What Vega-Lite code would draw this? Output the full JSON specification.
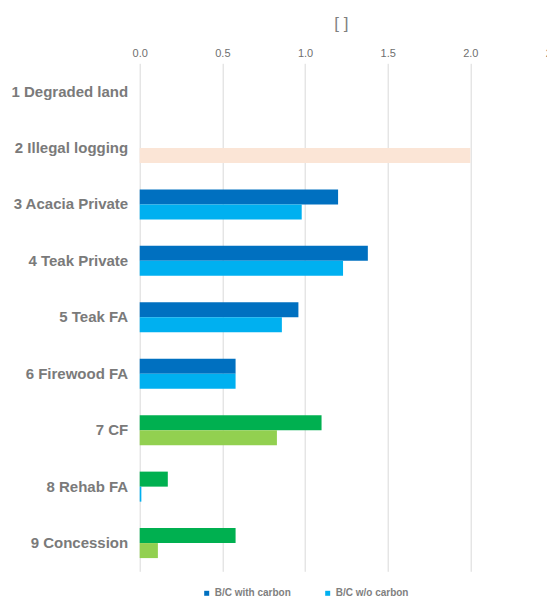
{
  "$schema": "https://vega.github.io/schema/vega-lite/v6.json",
  "autosize": {"type": "none"},
  "width": 413.3,
  "height": 508,
  "padding": {"left": 139.7, "top": 63.3, "right": -6, "bottom": 26.7},
  "background": "white",
  "config": {
    "font": "Liberation Sans",
    "view": {"stroke": null}
  },
  "title": {
    "text": "[ ]",
    "fontSize": 17,
    "fontWeight": "normal",
    "color": "#7F7F7F",
    "offset": 14,
    "dx": -5
  },
  "data": {
    "values": [
      {"cat": "2 Illegal logging", "series": "B/C w/o carbon", "group": "Illegal", "value": 2.0},
      {"cat": "3 Acacia Private", "series": "B/C with carbon", "group": "Plantation", "value": 1.20},
      {"cat": "3 Acacia Private", "series": "B/C w/o carbon", "group": "Plantation", "value": 0.98},
      {"cat": "4 Teak Private", "series": "B/C with carbon", "group": "Plantation", "value": 1.38},
      {"cat": "4 Teak Private", "series": "B/C w/o carbon", "group": "Plantation", "value": 1.23},
      {"cat": "5 Teak FA", "series": "B/C with carbon", "group": "Plantation", "value": 0.96},
      {"cat": "5 Teak FA", "series": "B/C w/o carbon", "group": "Plantation", "value": 0.86},
      {"cat": "6 Firewood FA", "series": "B/C with carbon", "group": "Plantation", "value": 0.58},
      {"cat": "6 Firewood FA", "series": "B/C w/o carbon", "group": "Plantation", "value": 0.58},
      {"cat": "7 CF", "series": "B/C with carbon", "group": "Community", "value": 1.10},
      {"cat": "7 CF", "series": "B/C w/o carbon", "group": "Community", "value": 0.83},
      {"cat": "8 Rehab FA", "series": "B/C with carbon", "group": "Community", "value": 0.17},
      {"cat": "8 Rehab FA", "series": "B/C w/o carbon", "group": "Rehab", "value": 0.01},
      {"cat": "9 Concession", "series": "B/C with carbon", "group": "Community", "value": 0.58},
      {"cat": "9 Concession", "series": "B/C w/o carbon", "group": "Community", "value": 0.11}
    ]
  },
  "mark": {"type": "bar", "cornerRadius": 0},
  "encoding": {
    "y": {
      "field": "cat",
      "type": "nominal",
      "sort": null,
      "scale": {
        "domain": ["1 Degraded land", "2 Illegal logging", "3 Acacia Private", "4 Teak Private", "5 Teak FA", "6 Firewood FA", "7 CF", "8 Rehab FA", "9 Concession"],
        "paddingInner": 0.468,
        "paddingOuter": 0.234
      },
      "axis": {
        "title": null,
        "ticks": false,
        "domain": false,
        "labelPadding": 12,
        "labelFontSize": 15,
        "labelFontWeight": "bold",
        "labelColor": "#7A7A7A",
        "labelLimit": 200
      }
    },
    "yOffset": {
      "field": "series",
      "type": "nominal",
      "sort": ["B/C with carbon", "B/C w/o carbon"],
      "scale": {"paddingInner": 0, "paddingOuter": 0}
    },
    "x": {
      "field": "value",
      "type": "quantitative",
      "scale": {"domain": [0, 2.5], "nice": false, "zero": true},
      "axis": {
        "orient": "top",
        "title": null,
        "values": [0, 0.5, 1, 1.5, 2, 2.5],
        "format": ".1f",
        "ticks": false,
        "domain": false,
        "grid": true,
        "gridColor": "#D9D9D9",
        "gridWidth": 1,
        "labelPadding": 5,
        "labelFontSize": 11,
        "labelFontWeight": 500,
        "labelColor": "#6F6F6F",
        "labelDx": -6,
        "labelFlush": false,
        "labelOverlap": false
      }
    },
    "color": {
      "condition": [
        {"test": "datum.group === 'Illegal'", "value": "#FBE5D6"},
        {"test": "datum.group === 'Community' && datum.series === 'B/C with carbon'", "value": "#00B050"},
        {"test": "datum.group === 'Community' && datum.series === 'B/C w/o carbon'", "value": "#92D050"}
      ],
      "field": "series",
      "type": "nominal",
      "sort": ["B/C with carbon", "B/C w/o carbon"],
      "scale": {"domain": ["B/C with carbon", "B/C w/o carbon"], "range": ["#0070C0", "#00B0F0"]},
      "legend": {
        "title": null,
        "orient": "none",
        "direction": "horizontal",
        "legendX": 62,
        "legendY": 525,
        "symbolType": "square",
        "symbolSize": 25,
        "symbolStrokeWidth": 0,
        "labelFontSize": 10,
        "labelFontWeight": "bold",
        "labelColor": "#7F7F7F",
        "labelOffset": 3,
        "columnPadding": 31
      }
    }
  }
}
